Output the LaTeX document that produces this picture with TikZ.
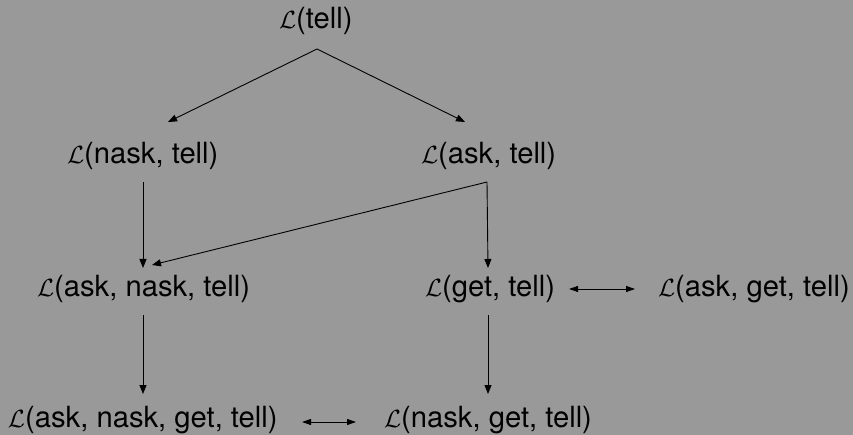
\documentclass[tikz,border=0pt]{standalone}
\usepackage{fontspec}
\setmainfont{TeX Gyre Heros}
\usetikzlibrary{arrows.meta}
\definecolor{bg}{HTML}{999999}
\tikzset{
  lbl/.style={anchor=base west, inner sep=0pt, outer sep=0pt, font=\fontsize{29.2}{35}\selectfont},
  arr/.style={line width=0.9pt, -{Triangle[length=9pt,width=7pt]}},
  darr/.style={line width=0.9pt, {Triangle[length=9pt,width=6pt]}-{Triangle[length=9pt,width=6pt]}}
}
\begin{document}
\begin{tikzpicture}[x=1pt,y=-1pt]
\fill[bg] (0,0) rectangle (853,435);
\useasboundingbox (0,0) rectangle (853,435);
% nodes
\node[lbl] (t)    at (279,29)  {$\mathcal{L}$(tell)};
\node[lbl] (nt)   at (67,164)  {$\mathcal{L}$(nask, tell)};
\node[lbl] (at)   at (421,164) {$\mathcal{L}$(ask, tell)};
\node[lbl] (ant)  at (37,297)  {$\mathcal{L}$(ask, nask, tell)};
\node[lbl] (gt)   at (425,297) {$\mathcal{L}$(get, tell)};
\node[lbl] (agt)  at (658,297) {$\mathcal{L}$(ask, get, tell)};
\node[lbl] (angt) at (8,427)   {$\mathcal{L}$(ask, nask, get, tell)};
\node[lbl] (ngt)  at (384,427) {$\mathcal{L}$(nask, get, tell)};
% connector end points
\coordinate (t-s)   at (317,49);
\coordinate (nt-n)  at (168,122);
\coordinate (at-n)  at (465,122);
\coordinate (nt-s)  at (143,182);
\coordinate (at-s)  at (487,182);
\coordinate (ant-n) at (143,268);
\coordinate (ant-e) at (152,265);
\coordinate (gt-n)  at (488,268);
\coordinate (ant-s) at (143,315);
\coordinate (gt-s)  at (488,315);
\coordinate (angt-n) at (143,394);
\coordinate (ngt-n) at (488,394);
\coordinate (gt-e)  at (569,289);
\coordinate (agt-w) at (635,289);
\coordinate (angt-e) at (302,422);
\coordinate (ngt-w) at (356,422);
% connectors
\draw[arr] (t-s) -- (nt-n);
\draw[arr] (t-s) -- (at-n);
\draw[arr] (nt-s) -- (ant-n);
\draw[arr] (at-s) -- (ant-e);
\draw[arr] (at-s) -- (gt-n);
\draw[arr] (ant-s) -- (angt-n);
\draw[arr] (gt-s) -- (ngt-n);
\draw[darr] (gt-e) -- (agt-w);
\draw[darr] (angt-e) -- (ngt-w);
\end{tikzpicture}
\end{document}
